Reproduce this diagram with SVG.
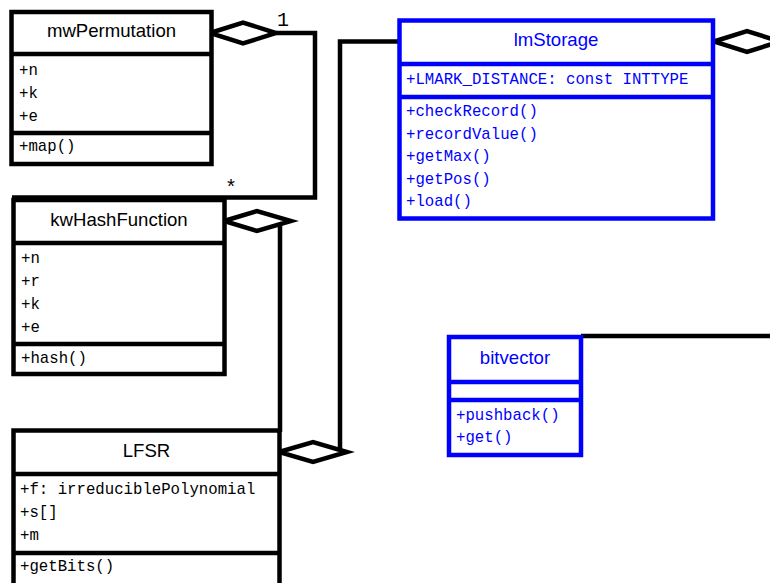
<svg xmlns="http://www.w3.org/2000/svg" width="770" height="583" viewBox="0 0 770 583">
<style>
.box{fill:#fff;stroke:#000;stroke-width:4.5}
.blue .box{stroke:#0000ff}
.div{stroke:#000;stroke-width:4.5}
.blue .div{stroke:#0000ff}
.hd{font-family:"Liberation Sans",Arial,sans-serif;font-size:18.6px;text-anchor:middle;fill:#000}
.blue .hd{fill:#0000ff}
.m{font-family:"Liberation Mono","Courier New",monospace;font-size:15.7px;fill:#000}
.blue .m{fill:#0000ff}
.ln{fill:none;stroke:#000;stroke-width:4.5}
.dia{fill:#fff;stroke:#000;stroke-width:4.5;stroke-linejoin:miter}
.lbl{font-family:"Liberation Mono","Courier New",monospace;font-size:20px;fill:#000}
</style>
<rect width="770" height="583" fill="#fff"/>
<g id="connectors">
<polyline class="ln" points="276,33 315,33 315,197.5 12,197.5"/>
<polygon class="dia" points="210,33 243,22.5 276,33 243,43.5"/>
<text class="lbl" x="277" y="26">1</text>
<text class="lbl" x="225" y="194">*</text>
<line class="ln" x1="280" y1="221" x2="280" y2="432"/>
<polygon class="dia" points="224,221 257,211 291,221 257,231"/>
<polyline class="ln" points="340,452 340,41.5 400,41.5"/>
<polygon class="dia" points="279,452 313,442 347,452 313,462"/>
<polygon class="dia" points="714,41.5 747,31 780,41.5 747,52"/>
<line class="ln" x1="581" y1="336" x2="772" y2="336"/>
</g>
<g id="mwPermutation">
<rect class="box" x="11.5" y="12" width="200" height="152"/>
<line class="div" x1="11.5" y1="54" x2="211.5" y2="54"/>
<line class="div" x1="11.5" y1="133" x2="211.5" y2="133"/>
<text class="hd" x="111.5" y="37">mwPermutation</text>
<text class="m" x="19" y="75">+n</text>
<text class="m" x="19" y="98">+k</text>
<text class="m" x="19" y="121">+e</text>
<text class="m" x="19" y="151">+map()</text>
</g>
<g id="kwHashFunction">
<rect class="box" x="13.5" y="200" width="211" height="174"/>
<line class="div" x1="13.5" y1="243" x2="224.5" y2="243"/>
<line class="div" x1="13.5" y1="344" x2="224.5" y2="344"/>
<text class="hd" x="119" y="226">kwHashFunction</text>
<text class="m" x="21" y="263">+n</text>
<text class="m" x="21" y="286">+r</text>
<text class="m" x="21" y="309">+k</text>
<text class="m" x="21" y="332">+e</text>
<text class="m" x="21" y="363">+hash()</text>
</g>
<g id="LFSR">
<rect class="box" x="13.5" y="430.5" width="266" height="170"/>
<line class="div" x1="13.5" y1="474" x2="279.5" y2="474"/>
<line class="div" x1="13.5" y1="553" x2="279.5" y2="553"/>
<text class="hd" x="146.5" y="457">LFSR</text>
<text class="m" x="20" y="494">+f: irreduciblePolynomial</text>
<text class="m" x="20" y="517">+s[]</text>
<text class="m" x="20" y="540">+m</text>
<text class="m" x="20" y="571">+getBits()</text>
</g>
<g id="lmStorage" class="blue">
<rect class="box" x="399.5" y="20.5" width="313.5" height="198"/>
<line class="div" x1="399.5" y1="64" x2="713" y2="64"/>
<line class="div" x1="399.5" y1="97" x2="713" y2="97"/>
<text class="hd" x="556" y="46">lmStorage</text>
<text class="m" x="406" y="84">+LMARK_DISTANCE: const INTTYPE</text>
<text class="m" x="406" y="116">+checkRecord()</text>
<text class="m" x="406" y="138.5">+recordValue()</text>
<text class="m" x="406" y="161">+getMax()</text>
<text class="m" x="406" y="183.5">+getPos()</text>
<text class="m" x="406" y="206">+load()</text>
</g>
<g id="bitvector" class="blue">
<rect class="box" x="449" y="337" width="132" height="118"/>
<line class="div" x1="449" y1="382" x2="581" y2="382"/>
<line class="div" x1="449" y1="400" x2="581" y2="400"/>
<text class="hd" x="515" y="364">bitvector</text>
<text class="m" x="456" y="420">+pushback()</text>
<text class="m" x="456" y="442">+get()</text>
</g>
</svg>
